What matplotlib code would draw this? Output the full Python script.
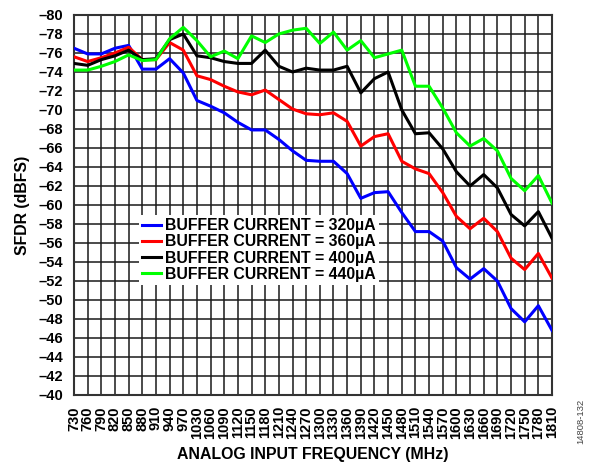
import matplotlib
matplotlib.use('Agg')
import matplotlib.pyplot as plt
import numpy as np

plt.rcParams['font.family'] = ['Liberation Sans', 'DejaVu Sans']
plt.rcParams['font.weight'] = 'bold'

# input frequency points (MHz); the sweep skips 1000
freqLabels = ['730', '760', '790', '820', '850', '880', '910', '940', '970',
              '1030', '1060', '1090', '1120', '1150', '1180', '1210', '1240',
              '1270', '1300', '1330', '1360', '1390', '1420', '1450', '1480',
              '1510', '1540', '1570', '1600', '1630', '1660', '1690', '1720',
              '1750', '1780', '1810']

sfdr320 = [-76.5, -75.9, -75.9, -76.5, -76.8, -74.3, -74.3, -75.4, -73.9,
           -71.0, -70.4, -69.7, -68.7, -67.9, -67.9, -66.9, -65.7, -64.7,
           -64.6, -64.6, -63.3, -60.7, -61.3, -61.4, -59.2, -57.2, -57.2,
           -56.2, -53.4, -52.2, -53.3, -52.0, -49.1, -47.7, -49.4, -46.8]
sfdr360 = [-75.6, -75.1, -75.5, -76.0, -76.6, -75.3, -75.3, -77.1, -76.3,
           -73.6, -73.2, -72.5, -71.9, -71.6, -72.1, -71.1, -70.1, -69.6,
           -69.5, -69.7, -68.8, -66.2, -67.2, -67.5, -64.6, -63.8, -63.3,
           -61.3, -58.8, -57.5, -58.6, -57.2, -54.4, -53.2, -54.9, -52.3]
sfdr400 = [-74.9, -74.7, -75.3, -75.7, -76.3, -75.3, -75.4, -77.4, -78.0,
           -75.7, -75.5, -75.1, -74.9, -74.9, -76.3, -74.6, -74.0, -74.4,
           -74.2, -74.2, -74.6, -71.8, -73.3, -74.0, -70.0, -67.5, -67.6,
           -65.9, -63.5, -62.0, -63.2, -61.8, -59.0, -57.8, -59.3, -56.5]
sfdr440 = [-74.2, -74.2, -74.6, -75.1, -75.8, -75.2, -75.3, -77.5, -78.7,
           -77.3, -75.6, -76.2, -75.4, -77.8, -77.1, -78.0, -78.4, -78.6,
           -77.0, -78.2, -76.3, -77.3, -75.5, -75.9, -76.3, -72.5, -72.5,
           -70.2, -67.6, -66.2, -67.0, -65.7, -62.8, -61.5, -63.1, -60.2]

seriesNames = ['BUFFER CURRENT = 320µA', 'BUFFER CURRENT = 360µA',
               'BUFFER CURRENT = 400µA', 'BUFFER CURRENT = 440µA']
seriesColors = ['#0000ff', '#ff0000', '#000000', '#00ff00']

yTicks = list(range(-80, -39, 2))


def main():
	fig = plt.figure(figsize=(5.94, 4.68), dpi=100)
	ax = fig.add_axes([0.1246, 0.156, 0.8047, 0.812])

	x = np.arange(len(freqLabels))
	for data, name, color in zip([sfdr320, sfdr360, sfdr400, sfdr440], seriesNames, seriesColors):
		ax.plot(x, data, color=color, lw=2.2, label=name, zorder=3)

	ax.set_xlim(0, len(freqLabels) - 1)
	ax.set_ylim(-40, -80)
	ax.set_xticks(x)
	ax.set_xticklabels(freqLabels, rotation=90, fontsize=10.5, fontweight='bold')
	ax.set_yticks(yTicks)
	ax.set_yticklabels(['\u2013' + str(abs(v)) for v in yTicks], fontsize=10.5, fontweight='bold')
	ax.tick_params(length=0)
	ax.tick_params(axis='y', pad=8)
	ax.tick_params(axis='x', pad=8)
	ax.grid(True, color='#1a1a1a', lw=1.1, zorder=1)
	ax.set_axisbelow(True)
	for s in ax.spines.values():
		s.set_color('#333333')
		s.set_linewidth(1.5)

	ax.set_xlabel('ANALOG INPUT FREQUENCY (MHz)', fontsize=11.4, fontweight='bold', labelpad=6)
	ax.set_ylabel('SFDR (dBFS)', fontsize=11.4, fontweight='bold', labelpad=6)

	leg = ax.legend(loc='upper left', bbox_to_anchor=(139 / 594, 1 - 215 / 468),
	                bbox_transform=fig.transFigure, frameon=True, fancybox=False,
	                edgecolor='none', facecolor='white', framealpha=1.0,
	                handlelength=1.2, handletextpad=0.25, borderpad=0.2,
	                labelspacing=0.08, borderaxespad=0,
	                prop={'size': 11.4, 'weight': 'bold'})
	leg.set_zorder(5)

	fig.text(0.977, 0.1, '14808-132', rotation=90, fontsize=6.8, color='#444444',
	         fontweight='normal', ha='center', va='center')

	fig.savefig('out.png', dpi=100)


if __name__ == '__main__':
	main()
